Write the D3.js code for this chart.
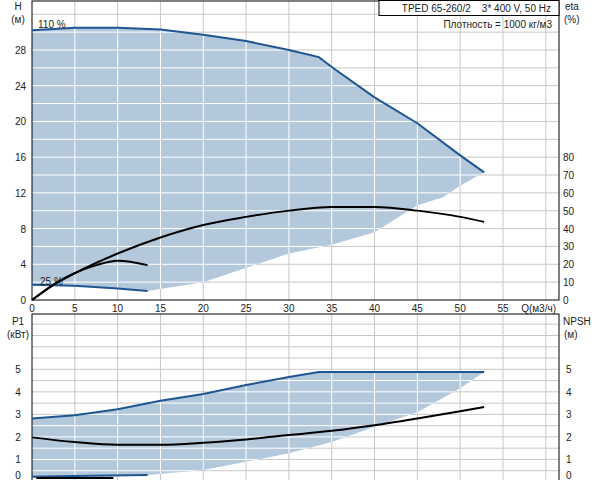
<!DOCTYPE html>
<html><head><meta charset="utf-8">
<script src="https://cdn.jsdelivr.net/npm/d3@7"></script>
<style>body{margin:0;background:#fff}text{font-family:Arial,"Liberation Sans",sans-serif;font-size:10px;fill:#222}</style>
</head><body><svg id="c" width="592" height="480"></svg>
<script>
// ---- data ----
const qTicks=[0,5,10,15,20,25,30,35,40,45,50,55];
const hTicks=[0,4,8,12,16,20,24,28];
const etaTicks=[0,10,20,30,40,50,60,70,80];
const pTicks=[0,1,2,3,4,5];
const h110Q=[0,5,10,15,20,25,30,33.5,35,40,45,50,52.8];
const h110H=[30.2,30.5,30.5,30.3,29.7,29.0,28.0,27.2,26.1,22.7,19.8,16.2,14.3];
const h25Q=[0,5,10,13.5];
const h25H=[1.7,1.6,1.3,1.0];
const fillLowQ=[13.5,20,30,35,40,45,48,50,52.8];
const fillLowH=[1.0,2.0,5.2,6.2,7.6,10.6,11.5,12.8,14.3];
const etaQ=[0,2.5,5,10,15,20,25,30,35,40,45,50,52.8];
const etaV=[0,8.5,15,26,35,42,46.5,50,52,52,50,46.5,43.7];
const eta25Q=[0,3,5,7.5,10,13.5];
const eta25V=[0,10,15,19.5,22,19.5];
const p1Q=[0,5,10,15,20,25,30,33.5,52.8];
const p1V=[2.82,2.96,3.23,3.6,3.9,4.3,4.66,4.88,4.88];
const p1LowQ=[0,5,13.5];
const p1LowV=[0.23,0.27,0.31];
const p1FillQ=[13.5,20,25,30,35,40,45,50,52.8];
const p1FillV=[0.31,0.53,0.9,1.27,1.78,2.45,3.1,4.16,4.88];
const npQ=[0,5,10,15,20,25,30,35,40,45,50,52.8];
const npV=[1.98,1.77,1.65,1.65,1.74,1.89,2.08,2.27,2.52,2.82,3.14,3.33];
const np25Q=[0.5,9.5];
const np25V=[0.18,0.18];

const svg=d3.select("#c");
const L=32,R=559;
const x=d3.scaleLinear().domain([0,55]).range([L,503]);
const xMax=x.invert(R);
const y=d3.scaleLinear().domain([0,28]).range([300,50]);
const yEta=d3.scaleLinear().domain([0,80]).range([300,157]);
const T1=1,B1=300;
const yp=d3.scaleLinear().domain([0,5]).range([482,369.3]);
const T2=314,B2=480;
const BLUE="#1f5591",FILL="#b4c8dc";
const zip=(a,b)=>a.map((v,i)=>[v,b[i]]);
const line=(sx,sy)=>d3.line().x(d=>sx(d[0])).y(d=>sy(d[1]));

function grid(g,sy,yTop,yBot,hStep,col){
  const yMaxV=sy.invert(yTop);
  for(let q=5;q<=xMax;q+=5) g.append("line").attr("x1",x(q)).attr("x2",x(q)).attr("y1",yTop).attr("y2",yBot).attr("stroke",col);
  for(let h=hStep*Math.ceil(sy.invert(yBot)/hStep);h<yMaxV;h+=hStep){const yy=sy(h); if(yy<yBot-1) g.append("line").attr("x1",L).attr("x2",R).attr("y1",yy).attr("y2",yy).attr("stroke",col);}
}
const defs=svg.append("defs");
// ---- top plot ----
const topPoly=zip(h110Q,h110H).concat(zip(fillLowQ,fillLowH).reverse(),zip(h25Q,h25H).reverse());
defs.append("clipPath").attr("id","cp1").append("path").attr("d",line(x,y)(topPoly)+"Z");
grid(svg.append("g"),y,T1,B1,2,"#c8c8c8");
svg.append("path").attr("d",line(x,y)(topPoly)+"Z").attr("fill",FILL);
grid(svg.append("g").attr("clip-path","url(#cp1)"),y,T1,B1,2,"#fff");
svg.append("rect").attr("x",L).attr("y",T1).attr("width",R-L).attr("height",B1-T1).attr("fill","none").attr("stroke","#000");
svg.append("path").attr("d",line(x,y)(zip(h110Q,h110H))).attr("fill","none").attr("stroke",BLUE).attr("stroke-width",2);
svg.append("path").attr("d",line(x,y)(zip(h25Q,h25H))).attr("fill","none").attr("stroke",BLUE).attr("stroke-width",2);
svg.append("path").attr("d",line(x,yEta).curve(d3.curveMonotoneX)(zip(etaQ,etaV))).attr("fill","none").attr("stroke","#000").attr("stroke-width",2);
svg.append("path").attr("d",line(x,yEta).curve(d3.curveMonotoneX)(zip(eta25Q,eta25V))).attr("fill","none").attr("stroke","#000").attr("stroke-width",2);
svg.append("text").attr("x",38).attr("y",28).text("110 %");
svg.append("text").attr("x",40).attr("y",285).text("25 %");
// axes labels
hTicks.forEach(h=>svg.append("text").attr("x",26).attr("y",y(h)+4).attr("text-anchor","end").text(h));
etaTicks.forEach(e=>svg.append("text").attr("x",563).attr("y",yEta(e)+4).text(e));
qTicks.forEach(q=>svg.append("text").attr("x",x(q)).attr("y",312).attr("text-anchor","middle").text(q));
svg.append("text").attr("x",556).attr("y",312).attr("text-anchor","end").text("Q(м3/ч)");
svg.append("text").attr("x",18).attr("y",10).attr("text-anchor","middle").text("H");
svg.append("text").attr("x",18).attr("y",23).attr("text-anchor","middle").text("(м)");
svg.append("text").attr("x",565).attr("y",10).text("eta");
svg.append("text").attr("x",564).attr("y",23).text("(%)");
svg.append("rect").attr("x",379).attr("y",0.5).attr("width",180).attr("height",15).attr("fill","#fff").attr("stroke","#000");
svg.append("text").attr("x",551).attr("y",12).attr("text-anchor","end").text("TPED 65-260/2    3* 400 V, 50 Hz").attr("xml:space","preserve");
svg.append("text").attr("x",552).attr("y",28).attr("text-anchor","end").text("Плотность = 1000 кг/м3");
// ---- bottom plot ----
const botPoly=zip(p1Q,p1V).concat(zip(p1FillQ,p1FillV).reverse(),zip(p1LowQ,p1LowV).reverse());
defs.append("clipPath").attr("id","cp2").append("path").attr("d",line(x,yp)(botPoly)+"Z");
grid(svg.append("g"),yp,T2,B2,0.5,"#c8c8c8");
svg.append("path").attr("d",line(x,yp)(botPoly)+"Z").attr("fill",FILL);
grid(svg.append("g").attr("clip-path","url(#cp2)"),yp,T2,B2,0.5,"#fff");
svg.append("rect").attr("x",L).attr("y",T2).attr("width",R-L).attr("height",B2-T2+5).attr("fill","none").attr("stroke","#000");
svg.append("path").attr("d",line(x,yp)(zip(p1Q,p1V))).attr("fill","none").attr("stroke",BLUE).attr("stroke-width",2);
svg.append("path").attr("d",line(x,yp)(zip(p1LowQ,p1LowV))).attr("fill","none").attr("stroke",BLUE).attr("stroke-width",2);
svg.append("path").attr("d",line(x,yp).curve(d3.curveMonotoneX)(zip(npQ,npV))).attr("fill","none").attr("stroke","#000").attr("stroke-width",2);
svg.append("path").attr("d",line(x,yp)(zip(np25Q,np25V))).attr("fill","none").attr("stroke","#000").attr("stroke-width",2);
pTicks.forEach(p=>{svg.append("text").attr("x",18).attr("y",Math.min(yp(p)+4,479)).attr("text-anchor","middle").text(p);
  svg.append("text").attr("x",566).attr("y",Math.min(yp(p)+4,479)).text(p);});
svg.append("text").attr("x",18).attr("y",325).attr("text-anchor","middle").text("P1");
svg.append("text").attr("x",18).attr("y",338).attr("text-anchor","middle").text("(кВт)");
svg.append("text").attr("x",563).attr("y",325).text("NPSH");
svg.append("text").attr("x",564).attr("y",338).text("(м)");
</script></body></html>
